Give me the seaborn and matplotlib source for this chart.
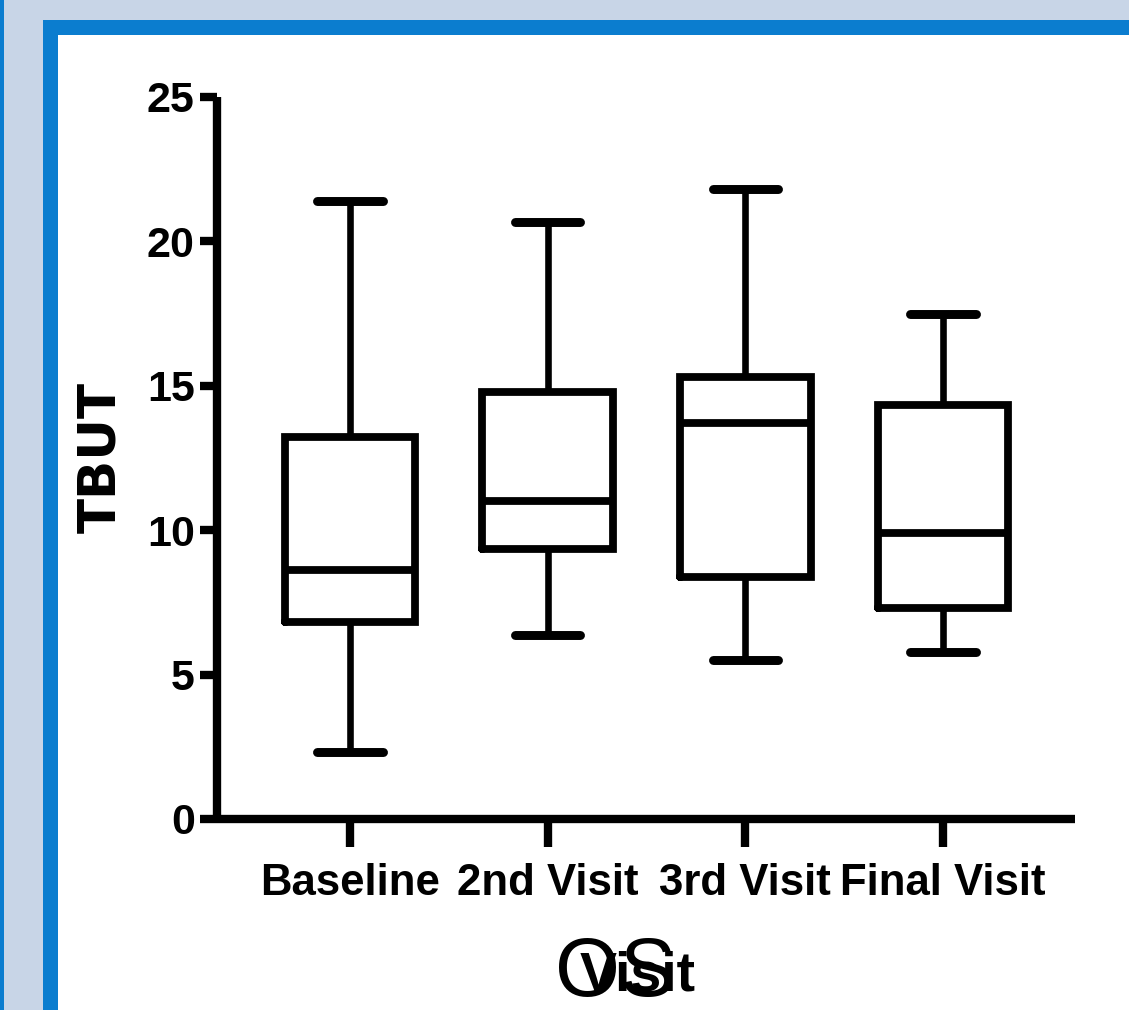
import matplotlib
matplotlib.use("Agg")
import matplotlib.pyplot as plt
from matplotlib.patches import Rectangle
import seaborn as sns
import pandas as pd

# ---- data (five-number summaries) ----
visits = ["Baseline", "2nd Visit", "3rd Visit", "Final Visit"]
tbut_min = [2.33, 6.37, 5.50, 5.79]
tbut_q1 = [6.81, 9.33, 8.38, 7.29]
tbut_median = [8.62, 11.01, 13.69, 9.89]
tbut_q3 = [13.23, 14.79, 15.30, 14.33]
tbut_max = [21.38, 20.66, 21.79, 17.47]
y_ticks = [0, 5, 10, 15, 20, 25]

rows = []
for i, v in enumerate(visits):
    for val in (tbut_min[i], tbut_q1[i], tbut_median[i], tbut_q3[i], tbut_max[i]):
        rows.append({"Visit": v, "TBUT": val})
df = pd.DataFrame(rows)

sns.set_style("ticks")
plt.rcParams["font.family"] = ["Liberation Sans", "DejaVu Sans"]

fig = plt.figure(figsize=(11.29, 10.10), dpi=100, facecolor="#c8d5e7")
W, H = 1129, 1010
# window frame decoration
for (x0, y0, w, h, c) in [(0, 0, 4 / W, 1, "#0b7dcf"),
                          (43 / W, 0, 1, 1 - 20 / H, "#0b7dcf"),
                          (58 / W, 0, 1, 1 - 35 / H, "white")]:
    fig.patches.append(Rectangle((x0, y0), w, h, transform=fig.transFigure,
                                 facecolor=c, edgecolor="none", zorder=-10))

ax = fig.add_axes([217 / W, (H - 819) / H, (1075 - 217) / W, (819 - 96.5) / H])
ax.set_zorder(5)
ax.set_facecolor("none")

lw = 5.6
sns.boxplot(data=df, x="Visit", y="TBUT", order=visits, whis=(0, 100),
            width=0.66, fill=False, color="black", linecolor="black",
            linewidth=lw, capwidths=0.33, ax=ax,
            boxprops=dict(linewidth=lw, solid_joinstyle="miter"),
            medianprops=dict(linewidth=lw, color="black"),
            whiskerprops=dict(linewidth=lw * 0.85),
            capprops=dict(linewidth=lw * 1.15, solid_capstyle="round"))

ax.set_ylim(0, 25)
ax.set_xlim(-0.673, 3.668)
ax.set_yticks(y_ticks)
ax.set_yticklabels([str(t) for t in y_ticks])
for side in ("top", "right"):
    ax.spines[side].set_visible(False)
for side in ("left", "bottom"):
    ax.spines[side].set_linewidth(6)
    ax.spines[side].set_color("black")
    ax.spines[side].set_capstyle("butt")

ax.tick_params(axis="y", length=12, width=6, pad=4, labelsize=31, colors="black")
ax.tick_params(axis="x", length=20, width=6, pad=12, labelsize=31.5, colors="black")
for lab in ax.get_xticklabels() + ax.get_yticklabels():
    lab.set_fontweight("bold")

ax.set_ylabel("TBUT", fontsize=37, fontweight="bold", family=["DejaVu Sans"],
              color="black")
ax.yaxis.set_label_coords(-0.106, 0.5)
ax.set_xlabel("Visit", fontsize=40, fontweight="bold", color="black",
              va="baseline")
ax.xaxis.set_label_coords(0.49, -0.2367)

fig.text(615 / W, 1 - 996 / H, "OS", fontsize=60, ha="center", va="baseline",
         color="black", zorder=10)

fig.savefig("out.png", dpi=100, facecolor=fig.get_facecolor())
